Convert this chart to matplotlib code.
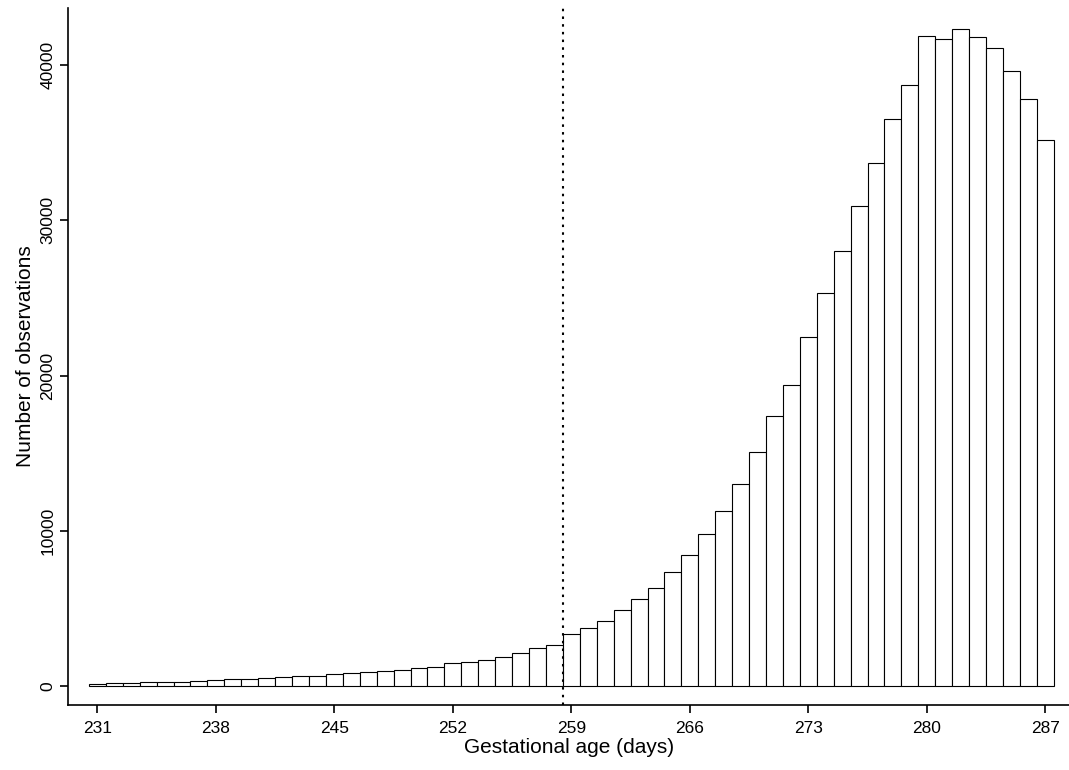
import matplotlib

matplotlib.use("Agg")
import matplotlib.pyplot as plt

plt.rcParams["font.family"] = ["Liberation Sans", "DejaVu Sans"]

days = list(range(231, 288))
counts = [150, 160, 200, 230, 230, 240, 300, 380, 450, 460, 520, 560, 620, 660, 750,
          850, 870, 960, 1030, 1170, 1220, 1450, 1550, 1700, 1850, 2100, 2450, 2650,
          3350, 3750, 4200, 4900, 5600, 6300, 7350, 8450, 9800, 11300, 13000, 15100,
          17400, 19400, 22500, 25300, 28000, 30900, 33700, 36500, 38700, 41900, 41700,
          42300, 41800, 41100, 39600, 37800, 35200]
cutoff = 258.5
xticks = list(range(231, 288, 7))
yticks = [0, 10000, 20000, 30000, 40000]

fig = plt.figure(figsize=(10.69, 7.70), dpi=100)
ax = fig.add_axes([0.064, 0.085, 0.936, 0.905])
ax.bar(days, counts, width=1.0, color="white", edgecolor="black", linewidth=0.8)
ax.axvline(cutoff, color="black", linestyle=(0, (1.2, 2.5)), linewidth=1.5)

ax.set_xlim(229.29, 288.4)
ax.set_ylim(-1200, 43700)
ax.set_xticks(xticks)
ax.set_yticks(yticks)
ax.set_yticklabels([str(v) for v in yticks], rotation=90, va="center")
ax.tick_params(labelsize=12.5, length=6, width=1.2)
ax.tick_params(axis="x", pad=6)
for s in ["top", "right"]:
    ax.spines[s].set_visible(False)
for s in ["left", "bottom"]:
    ax.spines[s].set_linewidth(1.2)
ax.set_xlabel("Gestational age (days)", fontsize=15, labelpad=1)
ax.set_ylabel("Number of observations", fontsize=15, labelpad=4)

fig.savefig("out.png", dpi=100)
